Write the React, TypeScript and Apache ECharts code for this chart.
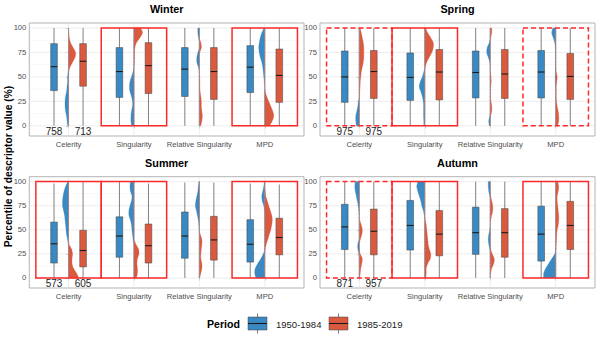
import React, { useEffect, useRef } from "react";
import * as echarts from "echarts";

const seasons = ["Winter", "Spring", "Summer", "Autumn"];
const categories = ["Celerity", "Singularity", "Relative Singularity", "MPD"];
const periods = ["1950-1984", "1985-2019"];
const yTickValues = [0, 25, 50, 75, 100];
const yMinorValues = [12.5, 37.5, 62.5, 87.5];
const densityLevels = [0, 5, 10, 15, 20, 25, 30, 35, 40, 45, 50, 55, 60, 65, 70, 75, 80, 85, 90, 95, 100];

// boxplot stats per category: [min, q1, median, q3, max]
const winterBox1950 = [[0, 36, 60.5, 84, 100], [0, 29, 55.5, 80, 100], [0, 30, 58, 80, 100], [0, 34, 60, 82, 100]];
const winterBox1985 = [[0, 40.5, 66, 84, 100], [0, 33, 61.5, 85, 100], [0, 27, 55.5, 80, 100], [0, 24, 51.5, 78.5, 100]];
const springBox1950 = [[0, 24, 50, 76.5, 100], [0, 26, 49.5, 74.5, 100], [0, 28.5, 54.5, 76.5, 100], [0, 28.5, 55, 77, 100]];
const springBox1985 = [[0, 28, 55.5, 77, 100], [0, 26.5, 55, 78, 100], [0, 28, 53, 78, 100], [0, 27, 50.5, 74, 100]];
const summerBox1950 = [[0, 15.5, 35.5, 58, 98], [0, 21.5, 43.5, 63.5, 100], [0, 20.5, 43.5, 68.5, 99], [0, 16.5, 35, 60.5, 98]];
const summerBox1985 = [[0, 11.5, 28.5, 49.5, 100], [0, 15.5, 33.5, 56, 98], [0, 18.5, 39.5, 64, 99], [0, 24, 42, 62, 97]];
const autumnBox1950 = [[0, 29.5, 53, 76.5, 100], [0, 29, 54.5, 80.5, 100], [0, 24.5, 47, 73.5, 100], [0, 17.5, 45.5, 74.5, 100]];
const autumnBox1985 = [[0, 24, 48.5, 71.5, 100], [0, 23, 45.5, 70, 100], [0, 21.5, 47, 72, 100], [0, 29.5, 54.5, 79.5, 100]];

// sample counts (Celerity)
const winterCounts = [758, 713];
const springCounts = [975, 975];
const summerCounts = [573, 605];
const autumnCounts = [871, 957];

// highlight frames per category
const winterHighlight = ["none", "solid", "none", "solid"];
const springHighlight = ["dashed", "solid", "none", "dashed"];
const summerHighlight = ["solid", "solid", "none", "solid"];
const autumnHighlight = ["dashed", "solid", "none", "solid"];

// half-violin densities at densityLevels (blue drawn left, red drawn right)
const winterDensity1950 = [
  [1, 1.5, 2, 3, 3.5, 3.5, 3, 2, 1.5, 1, 1, 0.5, 0, 0, 0, 0, 0, 0, 0, 0, 0],
  [2.5, 3, 3, 2.5, 1.5, 1.5, 2.5, 4, 4.5, 4, 2.5, 1, 0, 0, 0, 0, 0, 0, 0, 0, 0],
  [0, 0, 0, 0, 0, 0, 0, 0, 0, 0, 0, 0, 1, 2.5, 2.5, 1.5, 0, 0, 0.8, 1.5, 1.5],
  [0, 0, 0, 0, 0, 0, 0, 0, 0, 0.5, 1, 1.5, 2, 3, 4.5, 5.5, 6, 5.5, 4.5, 3, 1],
];
const winterDensity1985 = [
  [0, 0, 0, 0, 0, 0, 0, 0, 0, 0, 0, 0.3, 1.5, 4, 6.5, 7, 4.5, 2, 0.8, 0.3, 0],
  [0, 0, 0, 0, 0, 0, 0, 0, 0, 0, 0, 0, 0, 0.3, 0.5, 0.5, 1, 2.5, 6, 8.5, 7],
  [1.5, 2.5, 3, 2.5, 2, 2, 1.5, 0.8, 0.5, 0.5, 0.3, 0, 0, 0, 0, 0.5, 2, 1.5, 0, 0, 0],
  [5, 7.5, 9, 8, 6, 4, 2, 0.5, 0, 0, 0, 0, 0, 0, 0, 0, 0, 0, 0, 0, 0],
];
const springDensity1950 = [
  [3, 3.5, 3.5, 2.5, 1.5, 0.8, 0, 0, 0, 0, 0, 0, 0, 0, 0, 0, 0, 0, 0, 0, 0],
  [1, 1, 1.2, 1.2, 1.2, 1.5, 2.5, 4, 5.5, 4.5, 2.5, 1, 0, 0, 0, 0, 0, 0, 0, 0, 0],
  [1, 1.5, 0.5, 0, 0, 0, 0, 0, 0, 0, 0, 0, 0, 0.5, 2, 3.5, 3, 1, 0, 0, 0],
  [0, 0, 0, 0, 0, 0, 0, 0, 0.3, 0.5, 0.5, 0.3, 0.3, 0.3, 0.3, 0.3, 0.5, 1, 2.5, 4, 3],
];
const springDensity1985 = [
  [0, 0, 0, 0, 0, 0, 0.3, 0.5, 0.8, 1, 1.5, 2, 3, 4, 4.5, 4.5, 4.5, 4, 3, 2, 1],
  [0, 0, 0, 0, 0, 0, 0, 0, 0, 0, 0, 0, 0.5, 2, 4.5, 7, 8.5, 8.5, 6, 3, 1],
  [0, 0, 0.5, 1.5, 1.5, 0.8, 0.3, 0.3, 0.5, 1, 0.8, 0.3, 0, 0, 0, 0, 0, 0, 0.5, 1.5, 1.5],
  [2, 3, 3, 2.5, 1.5, 0.8, 0.5, 0.5, 0.5, 1, 1.5, 0.5, 0, 0, 0, 0, 0, 0, 0, 0, 0],
];
const summerDensity1950 = [
  [0, 0, 0, 0, 0, 0, 0, 0.3, 1, 2, 2.5, 3, 3.5, 4, 5, 6, 6, 5.5, 4.5, 3, 1],
  [0, 0, 0, 0, 0, 0, 0, 0, 0.8, 1.5, 2, 2.5, 3.5, 5, 5, 4, 2.5, 2, 3.5, 4, 3.5],
  [0, 0, 0, 0, 0, 0, 0, 0, 0, 0, 0.2, 0.5, 1, 2, 3, 4, 3.5, 2.5, 1.5, 1, 0.5],
  [9, 10, 9.5, 7, 4, 1.5, 0, 0, 0, 0, 0, 0, 0, 0, 0.3, 1, 2.5, 3, 2, 1, 0.5],
];
const summerDensity1985 = [
  [10, 8, 5, 3.5, 3.5, 4, 3, 0.5, 0, 0, 0, 0, 0, 0, 0, 0, 0, 0, 0, 0, 0],
  [2.5, 3.5, 3.5, 3, 3.5, 5, 4.5, 2, 0, 0, 0, 0, 0, 0, 0, 0, 0, 0, 0, 0, 0],
  [0.5, 1.5, 2.5, 2.5, 1.5, 1.5, 2, 2.5, 2.5, 1, 0, 0, 0, 0, 0, 0, 0, 0, 0, 0, 0],
  [0, 0, 0, 0, 0, 0, 0.5, 1.5, 3, 4.5, 6, 7, 7.5, 7, 5.5, 4, 2.5, 1, 0.5, 0, 0],
];
const autumnDensity1950 = [
  [0, 0, 0, 0, 0, 0.3, 1.5, 1.5, 0.3, 0, 0, 0, 0, 0.2, 0.5, 1, 2, 3, 4, 4.5, 4],
  [0, 0, 0, 0, 0, 0, 0, 0, 0, 0, 0, 0, 0, 0.5, 1.5, 3, 4, 5.5, 7, 8, 7],
  [0, 0, 0, 0, 0, 0, 0.5, 1.5, 2, 1.5, 0.5, 0, 0, 0, 0, 0, 0, 0.5, 1.5, 2, 2],
  [12, 12, 10, 7, 4, 1, 0, 0, 0, 0, 0, 0, 0, 0, 0, 0, 0, 0, 0, 0, 0],
];
const autumnDensity1985 = [
  [0.5, 1, 1.5, 2.5, 3, 1, 0, 0, 1, 2.5, 3, 2, 0.5, 0, 0, 0, 0, 0, 0, 0, 0],
  [1, 1.5, 1.5, 3, 5.5, 6, 4.5, 3.5, 3, 2.5, 2, 1.5, 0.5, 0, 0, 0, 0, 0, 0, 0, 0],
  [0, 0.5, 1.5, 3.5, 4, 2, 0.5, 0, 0, 0, 0, 0, 0.5, 1.5, 2.5, 2.5, 1.5, 0.5, 0, 0, 0],
  [0, 0, 0, 0, 0, 0, 0.3, 0.5, 0.8, 1, 1.5, 2.5, 3, 3, 2.5, 2, 1.5, 1.5, 2.5, 3, 2],
];

const seasonBoxes = [
  [winterBox1950, winterBox1985],
  [springBox1950, springBox1985],
  [summerBox1950, summerBox1985],
  [autumnBox1950, autumnBox1985],
];
const seasonDensities = [
  [winterDensity1950, winterDensity1985],
  [springDensity1950, springDensity1985],
  [summerDensity1950, summerDensity1985],
  [autumnDensity1950, autumnDensity1985],
];
const seasonCounts = [winterCounts, springCounts, summerCounts, autumnCounts];
const seasonHighlights = [winterHighlight, springHighlight, summerHighlight, autumnHighlight];

const COLORS = ["#3a89c2", "#da5a3f"];
const FONT = "'Liberation Sans', Arial, sans-serif";
const Y_MIN = -10.4;
const Y_MAX = 105.1;
const X_MIN = -0.6;
const X_MAX = 3.6;

const gridBoxes = [
  { left: 29.3, top: 23, width: 274.7, height: 113 },
  { left: 320, top: 23, width: 275, height: 113 },
  { left: 29.3, top: 176.7, width: 274.7, height: 111.3 },
  { left: 320, top: 176.7, width: 275, height: 111.3 },
];
const titlePos = [
  [166.7, 9], [457.5, 9], [166.7, 163], [457.5, 163],
];

function catmull(arr: number[], t: number) {
  const n = arr.length;
  const i = Math.min(Math.floor(t), n - 2);
  const f = t - i;
  const p0 = arr[Math.max(i - 1, 0)];
  const p1 = arr[i];
  const p2 = arr[i + 1];
  const p3 = arr[Math.min(i + 2, n - 1)];
  return 0.5 * (2 * p1 + (-p0 + p2) * f + (2 * p0 - 5 * p1 + 4 * p2 - p3) * f * f + (-p0 + 3 * p1 - 3 * p2 + p3) * f * f * f);
}

function levelAt(t: number) {
  const n = densityLevels.length;
  const i = Math.min(Math.floor(t), n - 2);
  const f = t - i;
  return densityLevels[i] + f * (densityLevels[i + 1] - densityLevels[i]);
}

function makeGridLinesRender() {
  return (_params: any, api: any) => {
    const x0 = api.coord([X_MIN, 0])[0];
    const x1 = api.coord([X_MAX, 0])[0];
    const yTop = api.coord([0, Y_MAX])[1];
    const yBot = api.coord([0, Y_MIN])[1];
    const children: any[] = [];
    yMinorValues.forEach((v) => {
      const y = api.coord([0, v])[1];
      children.push({ type: "line", shape: { x1: x0, y1: y, x2: x1, y2: y }, style: { stroke: "#f0f0f0", lineWidth: 0.5 } });
    });
    yTickValues.forEach((v) => {
      const y = api.coord([0, v])[1];
      children.push({ type: "line", shape: { x1: x0, y1: y, x2: x1, y2: y }, style: { stroke: "#e2e2e2", lineWidth: 0.6 } });
    });
    categories.forEach((_c, i) => {
      const x = api.coord([i, 0])[0];
      children.push({ type: "line", shape: { x1: x, y1: yTop, x2: x, y2: yBot }, style: { stroke: "#e2e2e2", lineWidth: 0.6 } });
    });
    return { type: "group", children };
  };
}

function makeContentRender(s: number) {
  return (_params: any, api: any) => {
    const i = Math.round(api.value(0));
    const unit = api.size([1, 0])[0];
    const scale = unit / 65.4;
    const cx = api.coord([i, 0])[0];
    const yOf = (v: number) => api.coord([i, v])[1];
    const children: any[] = [];

    // half violins
    seasonDensities[s].forEach((dens, p) => {
      const arr = dens[i];
      const n = arr.length;
      const pts: number[][] = [[cx, yOf(densityLevels[0])]];
      const steps = (n - 1) * 10;
      for (let k = 0; k <= steps; k++) {
        const t = k / 10;
        const w = Math.max(0, catmull(arr, t)) * scale;
        const y = yOf(levelAt(t));
        pts.push([p === 0 ? cx - w : cx + w, y]);
      }
      pts.push([cx, yOf(densityLevels[n - 1])]);
      children.push({ type: "polygon", shape: { points: pts }, style: { fill: COLORS[p], stroke: COLORS[p], lineWidth: 0.3 } });
    });

    // dashed baseline
    children.push({
      type: "line",
      shape: { x1: cx, y1: yOf(0), x2: cx, y2: yOf(100) },
      style: { stroke: "#8f8f8f", lineWidth: 0.8, lineDash: [2, 1.5] },
    });

    // boxplots
    seasonBoxes[s].forEach((boxes, p) => {
      const [mn, q1, med, q3, mx] = boxes[i];
      const bx = api.coord([i + (p === 0 ? -0.222 : 0.222), 0])[0];
      const hw = 0.051 * unit;
      children.push({ type: "line", shape: { x1: bx, y1: yOf(mn), x2: bx, y2: yOf(mx) }, style: { stroke: "#808080", lineWidth: 1 } });
      children.push({
        type: "rect",
        shape: { x: bx - hw, y: yOf(q3), width: hw * 2, height: yOf(q1) - yOf(q3) },
        style: { fill: COLORS[p], stroke: "#404040", lineWidth: 0.5 },
      });
      children.push({ type: "line", shape: { x1: bx - hw, y1: yOf(med), x2: bx + hw, y2: yOf(med) }, style: { stroke: "#1a1a1a", lineWidth: 1.1 } });
      if (i === 0) {
        children.push({
          type: "text",
          x: bx,
          y: yOf(-5.5),
          style: {
            text: String(seasonCounts[s][p]),
            fill: "#222222",
            font: `10px ${FONT}`,
            textAlign: "center",
            textVerticalAlign: "middle",
            align: "center",
            verticalAlign: "middle",
          },
        });
      }
    });

    // highlight frame
    const hl = seasonHighlights[s][i];
    if (hl !== "none") {
      const xl = api.coord([i - 0.5, 0])[0];
      const xr = api.coord([i + 0.5, 0])[0];
      children.push({
        type: "rect",
        shape: { x: xl, y: yOf(100), width: xr - xl, height: yOf(0) - yOf(100) },
        style: { fill: "none", stroke: "#fb2a2a", lineWidth: 1.5, lineDash: hl === "dashed" ? [5, 3] : null },
      });
    }
    return { type: "group", children };
  };
}

function legendGraphics() {
  const els: any[] = [];
  els.push({
    type: "text", x: 207, y: 324,
    style: { text: "Period", font: `bold 10.6px ${FONT}`, fill: "#000", textAlign: "left", textVerticalAlign: "middle", align: "left", verticalAlign: "middle" },
  });
  const keyX = [248, 329];
  const labelX = [276, 357];
  periods.forEach((label, p) => {
    const x = keyX[p];
    const c = x + 9.5;
    els.push({ type: "line", shape: { x1: c, y1: 313.5, x2: c, y2: 333.5 }, style: { stroke: "#808080", lineWidth: 1 } });
    els.push({ type: "rect", shape: { x, y: 317, width: 19, height: 13 }, style: { fill: COLORS[p], stroke: "#404040", lineWidth: 0.5 } });
    els.push({ type: "line", shape: { x1: x, y1: 323.5, x2: x + 19, y2: 323.5 }, style: { stroke: "#1a1a1a", lineWidth: 1.1 } });
    els.push({
      type: "text", x: labelX[p], y: 324,
      style: { text: label, font: `9.5px ${FONT}`, fill: "#1a1a1a", textAlign: "left", textVerticalAlign: "middle", align: "left", verticalAlign: "middle" },
    });
  });
  return els;
}

export default function App() {
  const ref = useRef<HTMLDivElement>(null);
  useEffect(() => {
    if (!ref.current) return;
    const chart = echarts.init(ref.current, undefined, { renderer: "svg" });
    const graphic: any[] = [];
    seasons.forEach((name, s) => {
      graphic.push({
        type: "text", x: titlePos[s][0], y: titlePos[s][1],
        style: { text: name, font: `bold 10.8px ${FONT}`, fill: "#000", textAlign: "center", textVerticalAlign: "middle", align: "center", verticalAlign: "middle" },
      });
    });
    graphic.push({
      type: "text", x: 8.5, y: 166.5, rotation: Math.PI / 2,
      style: { text: "Percentile of descriptor value (%)", font: `bold 10.2px ${FONT}`, fill: "#000", textAlign: "center", textVerticalAlign: "middle", align: "center", verticalAlign: "middle" },
    });
    graphic.push(...legendGraphics());

    const option: any = {
      animation: false,
      backgroundColor: "#ffffff",
      grid: gridBoxes.map((g) => ({
        ...g, show: true, backgroundColor: "#ffffff", borderColor: "#b3b3b3", borderWidth: 1, containLabel: false,
      })),
      xAxis: gridBoxes.map((_g, gi) => ({
        gridIndex: gi, type: "value", min: X_MIN, max: X_MAX,
        axisLine: { show: false },
        splitLine: { show: false },
        axisTick: { show: true, customValues: [0, 1, 2, 3], length: 2.5, lineStyle: { color: "#b3b3b3", width: 0.8 } },
        axisLabel: {
          customValues: [0, 1, 2, 3],
          formatter: (v: number) => categories[Math.round(v)] ?? "",
          color: "#4d4d4d", fontSize: 7.6, fontFamily: FONT, margin: 4.5,
        },
      })),
      yAxis: gridBoxes.map((_g, gi) => ({
        gridIndex: gi, type: "value", min: Y_MIN, max: Y_MAX,
        axisLine: { show: false },
        splitLine: { show: false },
        axisTick: { show: true, customValues: yTickValues, length: 2.5, lineStyle: { color: "#b3b3b3", width: 0.8 } },
        axisLabel: {
          customValues: yTickValues,
          formatter: (v: number) => String(Math.round(v)),
          color: "#4d4d4d", fontSize: 7.6, fontFamily: FONT, margin: 3,
        },
      })),
      series: [
        ...gridBoxes.map((_g, gi) => ({
          type: "custom", xAxisIndex: gi, yAxisIndex: gi, z: 1, silent: true,
          renderItem: makeGridLinesRender(),
          data: [[0, 0]],
        })),
        ...gridBoxes.map((_g, gi) => ({
          type: "custom", xAxisIndex: gi, yAxisIndex: gi, z: 2, silent: true,
          renderItem: makeContentRender(gi),
          data: categories.map((_c, ci) => [ci, 50]),
        })),
      ],
      graphic,
    };
    chart.setOption(option);
    return () => chart.dispose();
  }, []);
  return <div ref={ref} style={{ position: "fixed", left: 0, top: 0, width: 600, height: 339 }} />;
}
